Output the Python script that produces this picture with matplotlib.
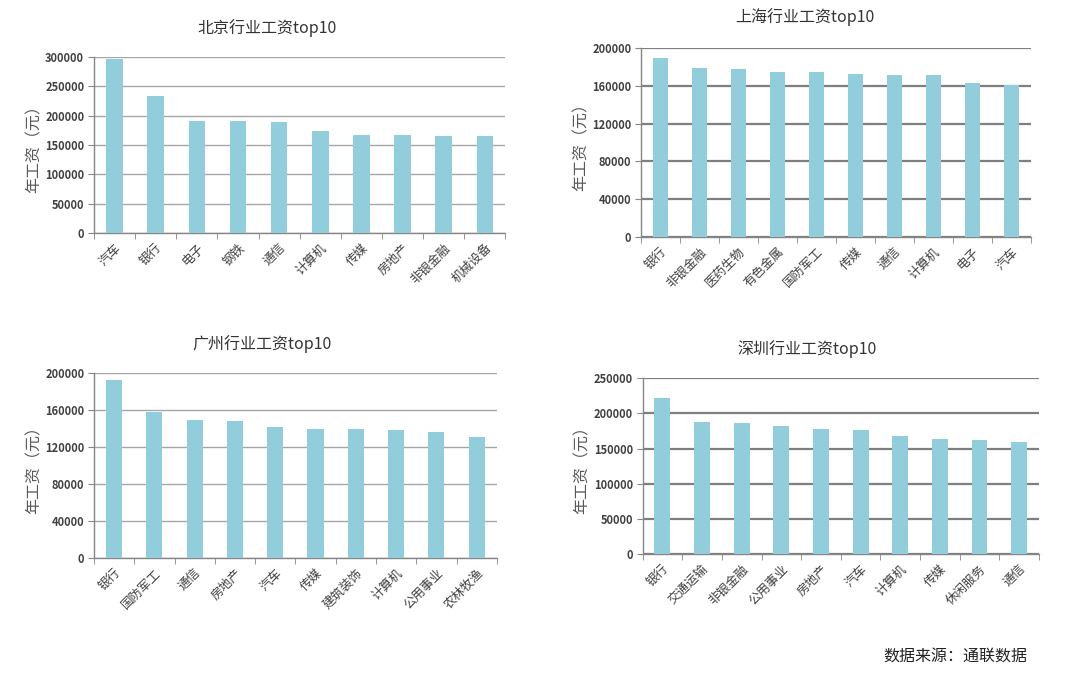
import matplotlib
matplotlib.use('Agg')
import matplotlib.pyplot as plt
import numpy as np

plt.rcParams['font.family'] = ['Noto Sans CJK SC', 'DejaVu Sans']

# data
bj_cats = ['汽车', '银行', '电子', '钢铁', '通信', '计算机', '传媒', '房地产', '非银金融', '机械设备']
bj_vals = [297000, 233000, 191000, 190500, 189000, 173500, 167000, 166500, 165800, 165500]

sh_cats = ['银行', '非银金融', '医药生物', '有色金属', '国防军工', '传媒', '通信', '计算机', '电子', '汽车']
sh_vals = [189400, 178800, 177800, 175000, 174300, 172800, 172100, 171400, 163000, 160500]

gz_cats = ['银行', '国防军工', '通信', '房地产', '汽车', '传媒', '建筑装饰', '计算机', '公用事业', '农林牧渔']
gz_vals = [192800, 157800, 149100, 148400, 141500, 140100, 139700, 139000, 136800, 130700]

sz_cats = ['银行', '交通运输', '非银金融', '公用事业', '房地产', '汽车', '计算机', '传媒', '休闲服务', '通信']
sz_vals = [222200, 187700, 186800, 182100, 177800, 176900, 168400, 164200, 162300, 159400]

bar_color = '#92cddc'
txt = '#404040'

fig = plt.figure(figsize=(10.8, 6.79), dpi=100)

panels = [
    # rect, cats, vals, ymax, step, title, title pos, grid color, grid width
    ([0.087, 0.657, 0.381, 0.259], bj_cats, bj_vals, 300000, 50000, '北京行业工资top10', (267, 28), '#a6a6a6', 1.0),
    ([0.5935, 0.651, 0.361, 0.278], sh_cats, sh_vals, 200000, 40000, '上海行业工资top10', (805, 17), '#7f7f7f', 1.6),
    ([0.087, 0.178, 0.373, 0.272], gz_cats, gz_vals, 200000, 40000, '广州行业工资top10', (262, 344), '#a6a6a6', 1.0),
    ([0.595, 0.184, 0.367, 0.259], sz_cats, sz_vals, 250000, 50000, '深圳行业工资top10', (807, 349), '#7f7f7f', 1.6),
]

for rect, cats, vals, ymax, step, title, tpos, gcol, gw in panels:
    ax = fig.add_axes(rect)
    x = np.arange(len(cats))
    ax.bar(x, vals, width=0.4, color=bar_color, zorder=3)
    ax.set_xlim(-0.5, len(cats) - 0.5)
    ax.set_ylim(0, ymax)
    ax.set_yticks(np.arange(0, ymax + 1, step))
    ax.yaxis.grid(True, color=gcol, linewidth=gw, zorder=0)
    ax.set_axisbelow(True)
    for s in ['top', 'right']:
        ax.spines[s].set_visible(False)
    for s in ['left', 'bottom']:
        ax.spines[s].set_color('#868686')
        ax.spines[s].set_linewidth(1.0)
    ax.set_xticks(x)
    ax.set_xticklabels(cats, rotation=45, ha='right', va='top', rotation_mode='anchor',
                       fontsize=9, color=txt)
    ax.set_xticks(np.arange(-0.5, len(cats)), minor=True)
    ax.tick_params(axis='x', which='major', length=0, pad=6)
    ax.tick_params(axis='x', which='minor', length=4, color='#868686', direction='out')
    ax.tick_params(axis='y', length=4, color='#868686', labelsize=8, labelcolor=txt, pad=3)
    for lab in ax.get_yticklabels():
        lab.set_fontweight('bold')
    ax.set_ylabel('年工资（元）', fontsize=11.5, color='#595959', labelpad=2)
    fig.text(tpos[0] / 1080, 1 - tpos[1] / 679, title, ha='center', va='center',
             fontsize=11.5, color='#333333')

fig.text(955 / 1080, 1 - 657 / 679, '数据来源：通联数据', ha='center', va='center',
         fontsize=11.5, color='#222222')

fig.savefig('out.png', dpi=100, facecolor='white')
